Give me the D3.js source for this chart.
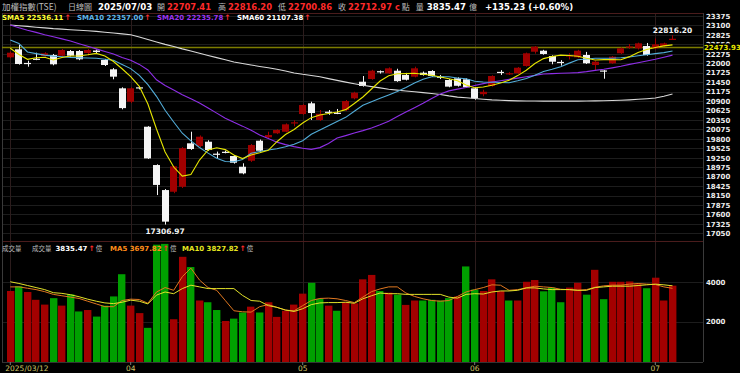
<!DOCTYPE html>
<html><head><meta charset="utf-8">
<script src="https://cdn.jsdelivr.net/npm/d3@7"></script>
<style>html,body{margin:0;padding:0;background:#000;overflow:hidden}svg{display:block}</style>
</head><body>
<svg id="c" width="740" height="373"></svg>
<script>
// ---------------- DATA ----------------
const dates = [
 "2025-03-12","2025-03-13","2025-03-14","2025-03-17","2025-03-18","2025-03-19","2025-03-20","2025-03-21","2025-03-24","2025-03-25",
 "2025-03-26","2025-03-27","2025-03-28","2025-03-31","2025-04-01","2025-04-02","2025-04-07","2025-04-08","2025-04-09","2025-04-10",
 "2025-04-11","2025-04-14","2025-04-15","2025-04-16","2025-04-17","2025-04-18","2025-04-21","2025-04-22","2025-04-23","2025-04-24",
 "2025-04-25","2025-04-28","2025-04-29","2025-04-30","2025-05-02","2025-05-05","2025-05-06","2025-05-07","2025-05-08","2025-05-09",
 "2025-05-12","2025-05-13","2025-05-14","2025-05-15","2025-05-16","2025-05-19","2025-05-20","2025-05-21","2025-05-22","2025-05-23",
 "2025-05-26","2025-05-27","2025-05-28","2025-05-29","2025-06-02","2025-06-03","2025-06-04","2025-06-05","2025-06-06","2025-06-09",
 "2025-06-10","2025-06-11","2025-06-12","2025-06-13","2025-06-16","2025-06-17","2025-06-18","2025-06-19","2025-06-20","2025-06-23",
 "2025-06-24","2025-06-25","2025-06-26","2025-06-27","2025-06-30","2025-07-01","2025-07-02","2025-07-03"];

const openP = [
 22173,22406,22010,22132,22211,22240,22220,22356,22356,22298,
 22371,22095,21824,21271,20881,21300,20154,19039,18311,18262,
 18408,19671,19592,19717,19370,19425,19301,18990,19164,19746,
 19845,19962,20008,20253,20523,20835,20349,20590,20560,20640,
 20980,21463,21542,21770,21708,21783,21658,21609,21725,21775,
 21610,21513,21562,21533,21271,21100,21338,21750,21680,21708,
 21920,22336,22365,22211,22040,22200,22173,22240,21949,21790,
 21999,22290,22460,22435,22502,22435,22500,22707.41];
const highP = [
 22340,22531,22074,22307,22320,22270,22415,22386,22386,22415,
 22400,22125,21860,21300,21300,21338,20170,19060,18340,19010,
 19560,20008,19900,19760,19430,19460,19330,19090,19650,19780,
 20008,20080,20250,20340,20810,20881,20640,20640,20670,20930,
 21170,21629,21810,21790,21880,21840,21720,21900,21760,21800,
 21660,21540,21590,21560,21300,21230,21650,21800,21740,21890,
 22310,22500,22390,22230,22090,22290,22390,22330,22070,21800,
 22210,22460,22560,22600,22590,22720,22600,22816.20];
const lowP = [
 22150,21960,21900,22090,22190,21940,22200,22200,22090,22230,
 22280,21920,21533,20660,20840,21240,19216,18166,17306.97,18220,
 18370,19480,19560,19450,19234,19380,19080,18770,19130,19430,
 19820,19940,19990,20165,20500,20349,20320,20500,20520,20610,
 20950,21320,21520,21700,21690,21460,21500,21590,21640,21600,
 21540,21300,21320,21280,20940,21040,21320,21660,21660,21690,
 21900,22280,22250,21970,21930,22110,22150,21980,21800,21550,
 21980,22270,22420,22400,22220,22410,22480,22700.86];
const closeP = [
 22307,21978,22000,22103,22290,21970,22386,22220,22115,22386,
 22327,21949,21610,20695,21271,21298,19232,18460,17392,19001,
 19529,19505,19863,19476,19359,19420,19106,18797,19621,19455,
 19912,20058,20223,20282,20785,20552,20530,20582,20552,20902,
 21143,21338,21783,21754,21853,21480,21520,21853,21658,21629,
 21600,21320,21345,21300,20980,21170,21629,21740,21710,21870,
 22290,22482,22270,22045,22030,22230,22365,21999,22045,21775,
 22191,22435,22490,22580,22240,22550,22578,22712.97];
const volume = [
 3563,3807,3510,3114,2870,3198,2818,3390,2521,2594,
 2260,2818,3286,4416,2818,2437,1687,5920,5960,2125,
 5302,4781,3078,2990,2594,2036,2156,2469,2765,2469,
 2990,2245,2557,2870,3427,3979,3166,2818,2557,3000,
 2937,4156,4380,3562,3479,3375,2854,3078,3078,3114,
 3078,3198,3286,4812,3635,3562,4156,3562,3078,3078,
 4031,4120,3547,3739,2990,3739,3979,3375,4640,3146,
 4031,4031,4047,3911,3703,4239,3078,3835.47];

const sma5 = [
 22435,22255,22115,22159,22176,22095,22167,22211,22211,22246,
 22287,22211,22051,21841,21614,21329,20814,20087,19417,18981,
 18719,18763,19185,19476,19543,19487,19330,19228,19330,19394,
 19467,19717,19927,20072,20261,20418,20494,20538,20582,20651,
 20829,21018,21251,21484,21635,21693,21699,21708,21679,21649,
 21600,21548,21489,21367,21286,21309,21359,21428,21504,21641,
 21798,21993,22135,22196,22237,22225,22205,22144,22097,22106,
 22109,22103,22193,22316,22403,22461,22505,22536.11];
const sma10 = [
 22677,22575,22330,22281,22237,22208,22188,22170,22161,22153,
 22147,22118,22086,21967,21844,21649,21379,21038,20631,20290,
 19964,19740,19548,19385,19234,19144,19135,19199,19383,19435,
 19476,19514,19569,19645,19746,19933,20055,20183,20305,20427,
 20602,20776,20881,20980,21076,21175,21294,21428,21533,21609,
 21609,21606,21571,21548,21478,21457,21449,21440,21434,21492,
 21556,21652,21760,21824,21897,22004,22103,22124,22144,22144,
 22147,22161,22182,22217,22249,22281,22310,22357.00];
const sma20 = [
 23113,23035,22962,22898,22831,22770,22709,22648,22569,22493,
 22418,22342,22272,22167,22089,21967,21804,21518,21355,21222,
 21085,20968,20843,20698,20549,20401,20282,20171,20049,19915,
 19810,19705,19633,19575,19528,19496,19546,19665,19825,19895,
 19970,20040,20119,20209,20311,20454,20579,20704,20835,20977,
 21105,21196,21248,21294,21353,21408,21457,21492,21530,21568,
 21606,21647,21687,21699,21708,21716,21728,21757,21792,21824,
 21865,21911,21967,22016,22068,22118,22176,22235.78];
const sma60 = [
 23113,23093,23072,23049,23029,23008,22994,22976,22959,22944,
 22927,22904,22880,22854,22828,22764,22691,22621,22549,22485,
 22418,22357,22292,22228,22164,22100,22039,21993,21949,21908,
 21868,21827,21775,21719,21678,21644,21606,21553,21501,21451,
 21402,21358,21321,21283,21245,21219,21192,21169,21146,21122,
 21091,21050,21015,20998,20974,20954,20934,20922,20913,20907,
 20902,20900,20898,20897,20897,20898,20899,20901,20905,20910,
 20915,20925,20936,20951,20968,20989,21041,21107.38];
const volMa5 = [
 3772,3772,3703,3633,3529,3390,3321,3251,3182,3043,
 2904,2765,2765,3078,3147,3130,2938,3512,3737,3598,
 4292,4727,4119,3737,3598,3078,2557,2505,2488,2765,
 2869,2731,2592,2557,2817,3078,3182,3199,3165,3078,
 2973,3251,3529,3668,3772,3772,3460,3286,3165,3078,
 3043,3078,3286,3512,3633,3737,3876,3858,3598,3633,
 3720,3807,3772,3737,3650,3633,3598,3633,3755,3824,
 3858,3858,3911,3946,3911,3893,3772,3697.82];
const volMa10 = [
 4032,3946,3841,3737,3633,3477,3442,3373,3269,3147,
 3043,2956,2921,2991,3095,3043,2904,3355,3512,3425,
 3685,3858,3772,3685,3685,3685,3685,3338,3078,3043,
 2817,2731,2592,2522,2661,2869,2956,2973,2973,2991,
 2938,3165,3321,3460,3425,3425,3390,3390,3390,3390,
 3390,3251,3199,3390,3425,3408,3512,3564,3564,3598,
 3720,3720,3668,3633,3633,3633,3598,3598,3737,3772,
 3807,3807,3807,3841,3876,3911,3876,3827.82];

const priceTicks = [23375,23100,22825,22550,22275,22000,21725,21450,21175,20900,20625,20350,
                    20075,19800,19525,19250,18975,18700,18425,18150,17875,17600,17325,17050];
const volumeTicks = [2000,4000];
const monthTickDates = ["2025-03-12","2025-04-01","2025-05-02","2025-06-02","2025-07-01"];
const monthTickLabels = ["2025/03/12","04","05","06","07"];
const refLevel = 22473.93;
const maxLabel = "22816.20", minLabel = "17306.97";

// ---------------- LAYOUT ----------------
const svg = d3.select("#c");
const L = 2, R = 703, pTop = 13, pBot = 240, vTop = 242, vBot = 362;
const NUM = "'DejaVu Sans', Verdana, sans-serif";
const CJK = "'Noto Sans CJK TC','Noto Sans CJK SC',sans-serif";
const UP = "#a00000", DOWN = "#f4f4f4", VUP = "#a30000", VDN = "#00a000";

const x = d3.scaleBand().domain(dates).range([6, 6 + 8.6 * dates.length]).padding(0);
const xc = d => x(d) + x.bandwidth() / 2;
const y = d3.scaleLinear().domain([17050, 23375]).range([233.4, 16]);
const yv = d3.scaleLinear().domain([0, 4000]).range([361, 282.4]);

svg.append("rect").attr("width", 740).attr("height", 373).attr("fill", "#000");

const defs = svg.append("defs");
defs.append("clipPath").attr("id", "cp").append("rect").attr("x", L).attr("y", pTop).attr("width", R - L).attr("height", pBot - pTop);
defs.append("clipPath").attr("id", "cv").append("rect").attr("x", L).attr("y", vTop).attr("width", R - L).attr("height", vBot - vTop);

// grid
const grid = svg.append("g");
grid.selectAll("line.h").data(priceTicks).join("line")
  .attr("x1", L).attr("x2", R).attr("y1", d => Math.round(y(d)) + 0.5).attr("y2", d => Math.round(y(d)) + 0.5)
  .attr("stroke", "#1d1d1d");
grid.selectAll("line.hv").data(volumeTicks).join("line")
  .attr("x1", L).attr("x2", R).attr("y1", d => Math.round(yv(d)) + 0.5).attr("y2", d => Math.round(yv(d)) + 0.5)
  .attr("stroke", "#1d1d1d");
grid.selectAll("line.v").data(monthTickDates).join("line")
  .attr("x1", d => Math.round(xc(d)) + 0.5).attr("x2", d => Math.round(xc(d)) + 0.5)
  .attr("y1", pTop).attr("y2", vBot).attr("stroke", "#2c1c1c");

// frame
const fr = svg.append("g").attr("stroke", "#4a1c1c").attr("fill", "none");
fr.append("line").attr("x1", L).attr("x2", R).attr("y1", pTop + 0.5).attr("y2", pTop + 0.5);
fr.append("line").attr("x1", L).attr("x2", R).attr("y1", vTop - 0.5).attr("y2", vTop - 0.5);
fr.append("line").attr("x1", L).attr("x2", R).attr("y1", vBot + 0.5).attr("y2", vBot + 0.5).attr("stroke", "#333");
fr.append("line").attr("x1", L + 0.5).attr("x2", L + 0.5).attr("y1", pTop).attr("y2", vBot).attr("stroke", "#3a3a3a");
fr.append("line").attr("x1", R + 0.5).attr("x2", R + 0.5).attr("y1", pTop).attr("y2", vBot).attr("stroke", "#3a3a3a");

// reference level
svg.append("line").attr("x1", L).attr("x2", R)
  .attr("y1", Math.round(y(refLevel)) + 0.5).attr("y2", Math.round(y(refLevel)) + 0.5)
  .attr("stroke", "#7c7c00").attr("stroke-width", 1.3);

// candles
const pg = svg.append("g").attr("clip-path", "url(#cp)");
const idx = d3.range(dates.length);
const bw = 7;
pg.selectAll("line.w").data(idx).join("line")
  .attr("x1", i => Math.round(xc(dates[i])) + 0.5).attr("x2", i => Math.round(xc(dates[i])) + 0.5)
  .attr("y1", i => y(highP[i])).attr("y2", i => y(lowP[i]))
  .attr("stroke", i => closeP[i] > openP[i] ? UP : DOWN).attr("stroke-width", 1);
pg.selectAll("rect.b").data(idx).join("rect")
  .attr("x", i => Math.round(xc(dates[i]) - bw / 2))
  .attr("width", bw)
  .attr("y", i => y(Math.max(openP[i], closeP[i])))
  .attr("height", i => Math.max(1.2, Math.abs(y(openP[i]) - y(closeP[i]))))
  .attr("fill", i => closeP[i] > openP[i] ? UP : DOWN);

// MA lines
const pline = arr => d3.line().x((d, i) => xc(dates[i])).y(d => y(d))(arr);
const maG = svg.append("g").attr("clip-path", "url(#cp)").attr("fill", "none").attr("stroke-width", 1.1);
maG.append("path").attr("d", pline(sma60)).attr("stroke", "#d8d8d8");
maG.append("path").attr("d", pline(sma20)).attr("stroke", "#8e2ee6");
maG.append("path").attr("d", pline(sma10)).attr("stroke", "#52acd8");
maG.append("path").attr("d", pline(sma5)).attr("stroke", "#e6e600");

// volume bars
const vg = svg.append("g").attr("clip-path", "url(#cv)");
vg.selectAll("rect").data(idx).join("rect")
  .attr("x", i => Math.round(xc(dates[i]) - 3.7)).attr("width", 7.4)
  .attr("y", i => yv(volume[i])).attr("height", i => yv(0) - yv(volume[i]) + 1)
  .attr("fill", i => (i === 0 || closeP[i] >= closeP[i - 1]) ? VUP : VDN);
const vline = arr => d3.line().x((d, i) => xc(dates[i])).y(d => yv(d))(arr);
const vmG = svg.append("g").attr("clip-path", "url(#cv)").attr("fill", "none").attr("stroke-width", 1);
vmG.append("path").attr("d", vline(volMa5)).attr("stroke", "#e07820");
vmG.append("path").attr("d", vline(volMa10)).attr("stroke", "#e2e22a");

// price axis
const pAxis = svg.append("g").attr("transform", `translate(${R + 1},0)`)
  .call(d3.axisRight(y).tickValues(priceTicks).tickSize(0).tickPadding(2).tickFormat(d3.format("d")));
pAxis.select(".domain").remove();
pAxis.selectAll("text").attr("fill", "#ececec").attr("font-family", NUM).attr("font-weight", "bold").attr("font-size", 7);

// ref label (covers most of the neighbouring tick label, as in the source)
const ry = y(refLevel);
svg.append("rect").attr("x", R + 1).attr("y", ry - 3.5).attr("width", 36).attr("height", 8).attr("fill", "#000");
svg.append("text").attr("x", R + 1).attr("y", ry + 0.5).attr("dy", "0.34em").text(refLevel.toFixed(2))
  .attr("fill", "#e8e800").attr("font-family", NUM).attr("font-weight", "bold").attr("font-size", 7);

// volume axis
const vAxis = svg.append("g").attr("transform", `translate(${R + 1},0)`)
  .call(d3.axisRight(yv).tickValues(volumeTicks).tickSize(0).tickPadding(2).tickFormat(d3.format("d")));
vAxis.select(".domain").remove();
vAxis.selectAll("text").attr("fill", "#ececec").attr("font-family", NUM).attr("font-weight", "bold").attr("font-size", 7);

// x axis
const xAxis = svg.append("g").attr("transform", `translate(0,${vBot})`)
  .call(d3.axisBottom(x).tickValues(monthTickDates).tickSize(3).tickPadding(1)
    .tickFormat(d => monthTickLabels[monthTickDates.indexOf(d)]));
xAxis.select(".domain").remove();
xAxis.selectAll("line").attr("stroke", "#777");
xAxis.selectAll("text").attr("fill", "#cfc466").attr("font-family", NUM).attr("font-size", 7.5);
xAxis.selectAll(".tick").filter(d => d === monthTickDates[0]).select("text").attr("text-anchor", "start").attr("x", -5);

// high / low labels
const hiI = highP.indexOf(d3.max(highP)), loI = lowP.indexOf(d3.min(lowP));
svg.append("text").attr("x", xc(dates[hiI])).attr("y", y(highP[hiI]) - 2).attr("text-anchor", "middle").text(maxLabel)
  .attr("fill", "#f2f2f2").attr("font-family", NUM).attr("font-weight", "bold").attr("font-size", 7.5);
svg.append("text").attr("x", xc(dates[loI])).attr("y", y(lowP[loI]) + 9).attr("text-anchor", "middle").text(minLabel)
  .attr("fill", "#f2f2f2").attr("font-family", NUM).attr("font-weight", "bold").attr("font-size", 7.5);

// ---------------- TEXT ----------------
function t(xp, yp, s, fill, size, bold, fam) {
  return svg.append("text").attr("x", xp).attr("y", yp).text(s).attr("fill", fill)
    .attr("font-size", size).attr("font-family", fam || NUM).attr("font-weight", bold ? "bold" : "normal");
}
function seq(xp, yp, parts) {
  let cx = xp;
  parts.forEach(p => {
    const n = t(cx + (p.gap || 0), yp, p.s, p.fill, p.size, p.bold, p.fam);
    cx += (p.gap || 0) + n.node().getComputedTextLength();
  });
}
const G = "#bcbcbc", RED = "#ff2a2a";
t(2, 10, "加權指數(TSE)", G, 8.5, false, CJK);
t(68, 10, "日線圖", G, 8, false, CJK);
t(98, 10, "2025/07/03", "#fff", 8.6, true);
const hdr = [["開", "22707.41", 157], ["高", "22816.20", 218], ["低", "22700.86", 278], ["收", "22712.97", 338]];
let hx = 0;
hdr.forEach(h => {
  t(h[2], 10, h[0], G, 8, false, CJK);
  const n = t(h[2] + 10, 10, h[1], RED, 8.4, true);
  hx = h[2] + 10 + n.node().getComputedTextLength();
});
seq(hx + 3, 10, [
  {s: "c", fill: RED, size: 8, bold: true},
  {s: "點", fill: G, size: 8, fam: CJK, gap: 2},
  {s: "量", fill: G, size: 8, fam: CJK, gap: 6},
  {s: "3835.47", fill: "#fff", size: 8.6, bold: true, gap: 3},
  {s: "億", fill: G, size: 8, fam: CJK, gap: 3},
  {s: "+135.23 (+0.60%)", fill: "#fff", size: 8.6, bold: true, gap: 8}
]);

// MA legend
const legend = [
  {x: 2, s: "SMA5 22536.11", c: "#ffff33"},
  {x: 77, s: "SMA10 22357.00", c: "#5fb4e8"},
  {x: 157, s: "SMA20 22235.78", c: "#9a34f2"},
  {x: 237, s: "SMA60 21107.38", c: "#ffffff"}
];
legend.forEach(l => seq(l.x, 19.5, [
  {s: l.s, fill: l.c, size: 7, bold: true},
  {s: "↑", fill: RED, size: 7.5, bold: true, gap: 1}
]));

// volume header
t(2, 250.5, "成交量", G, 6.5, false, CJK);
seq(32, 250.5, [
  {s: "成交量", fill: G, size: 6.5, fam: CJK},
  {s: "3835.47", fill: "#fff", size: 7, bold: true, gap: 4},
  {s: "↑", fill: RED, size: 7.5, bold: true, gap: 1},
  {s: "億", fill: G, size: 6.5, fam: CJK, gap: 1}
]);
seq(110, 250.5, [
  {s: "MA5 3697.82", fill: "#ff8c1a", size: 7, bold: true},
  {s: "↑", fill: RED, size: 7.5, bold: true, gap: 1},
  {s: "億", fill: G, size: 6.5, fam: CJK, gap: 1}
]);
seq(182, 250.5, [
  {s: "MA10 3827.82", fill: "#e6e620", size: 7, bold: true},
  {s: "↑", fill: RED, size: 7.5, bold: true, gap: 1},
  {s: "億", fill: G, size: 6.5, fam: CJK, gap: 1}
]);
</script>
</body></html>
